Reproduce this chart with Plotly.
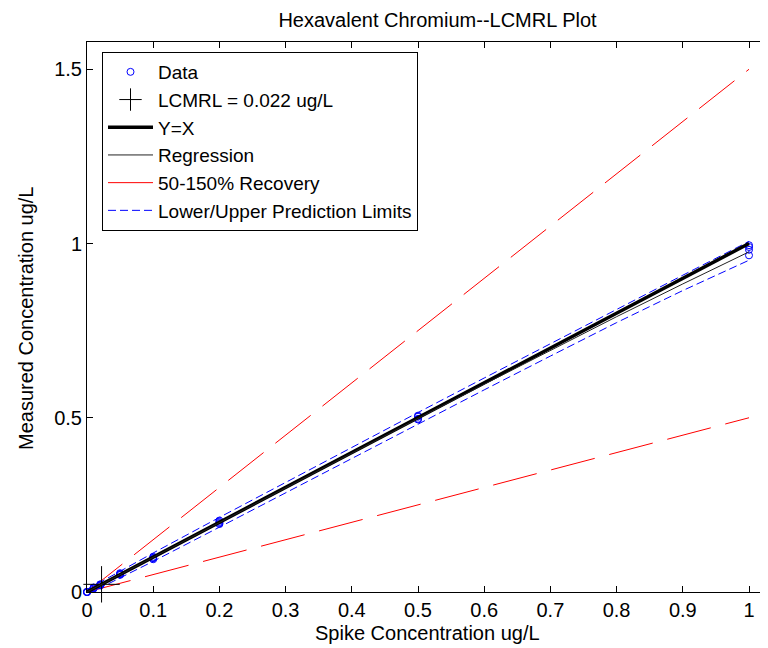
import plotly.graph_objects as go

# ---- data ----
spike_levels = [0.0, 0.01, 0.02, 0.05, 0.1, 0.2, 0.5, 1.0]
rep1 = [0.000, 0.011, 0.021, 0.052, 0.098, 0.195, 0.497, 0.995]
rep2 = [0.000, 0.012, 0.019, 0.049, 0.101, 0.201, 0.503, 0.982]
rep3 = [0.000, 0.010, 0.022, 0.051, 0.094, 0.205, 0.506, 0.966]
rep4 = [0.000, 0.013, 0.020, 0.054, 0.097, 0.198, 0.495, 0.990]

lcmrl_x = [0.022]
lcmrl_y = [0.022]

yx_x = [0.0, 1.0]
yx_y = [0.0, 1.0]

reg_x = [0.0, 0.1, 0.2, 0.3, 0.4, 0.5, 0.6, 0.7, 0.8, 0.9, 1.0]
reg_y = [0.0, 0.100, 0.200, 0.299, 0.399, 0.498, 0.596, 0.694, 0.790, 0.884, 0.976]

rec_x = [0.0, 1.0]
rec_low = [0.0, 0.5]
rec_high = [0.0, 1.5]

pl_x = [0.0, 0.05, 0.1, 0.2, 0.3, 0.4, 0.5, 0.6, 0.7, 0.8, 0.9, 1.0]
pl_upper = [0.007, 0.060, 0.112, 0.214, 0.315, 0.415, 0.515, 0.614, 0.713, 0.811, 0.909, 1.006]
pl_lower = [-0.007, 0.040, 0.088, 0.186, 0.285, 0.384, 0.483, 0.580, 0.677, 0.773, 0.865, 0.952]

x_ticks = [0, 0.1, 0.2, 0.3, 0.4, 0.5, 0.6, 0.7, 0.8, 0.9, 1]
x_tick_text = ["0", "0.1", "0.2", "0.3", "0.4", "0.5", "0.6", "0.7", "0.8", "0.9", "1"]
y_ticks = [0, 0.5, 1, 1.5]
y_tick_text = ["0", "0.5", "1", "1.5"]

# ---- build figure ----
data_x = []
data_y = []
for reps in (rep1, rep2, rep3, rep4):
    data_x.extend(spike_levels)
    data_y.extend(reps)

FONT = "Arial, Liberation Sans, sans-serif"
FS = 20
LFS = 19

fig = go.Figure()

fig.add_trace(go.Scatter(x=rec_x, y=rec_low, mode="lines", showlegend=False,
                         line=dict(color="#FF0000", width=1, dash="45px,15px")))
fig.add_trace(go.Scatter(x=rec_x, y=rec_high, mode="lines", showlegend=False,
                         line=dict(color="#FF0000", width=1, dash="45px,15px")))
fig.add_trace(go.Scatter(x=pl_x, y=pl_lower, mode="lines", showlegend=False,
                         line=dict(color="#0000FF", width=1, dash="8px,4px")))
fig.add_trace(go.Scatter(x=pl_x, y=pl_upper, mode="lines", showlegend=False,
                         line=dict(color="#0000FF", width=1, dash="8px,4px")))

fig.add_trace(go.Scatter(x=data_x, y=data_y, mode="markers", name="Data",
                         cliponaxis=False,
                         marker=dict(symbol="circle-open", size=7, color="#0000FF",
                                     line=dict(width=1, color="#0000FF"))))
fig.add_trace(go.Scatter(x=lcmrl_x, y=lcmrl_y, mode="markers", name="LCMRL = 0.022 ug/L",
                         cliponaxis=False,
                         marker=dict(symbol="cross-thin-open", size=26, color="black",
                                     line=dict(width=1, color="black"))))
fig.add_trace(go.Scatter(x=yx_x, y=yx_y, mode="lines", name="Y=X",
                         line=dict(color="black", width=3.5)))
fig.add_trace(go.Scatter(x=reg_x, y=reg_y, mode="lines", name="Regression",
                         line=dict(color="#222222", width=1)))
fig.add_trace(go.Scatter(x=[None], y=[None], mode="lines", name="50-150% Recovery",
                         line=dict(color="#FF0000", width=1)))
fig.add_trace(go.Scatter(x=[None], y=[None], mode="lines", name="Lower/Upper Prediction Limits",
                         line=dict(color="#0000FF", width=1, dash="8px,4px")))

# page has an 8px body margin: figure is 760x640 placed at (8, 8)
OFF = 8
W, H = 760, 640
L, R, T, B = 79, 0, 34, 56
PW, PH = W - L - R, H - T - B
xmax = PW / 662.0
ymax = PH / 348.5

axis_common = dict(showgrid=False, zeroline=False, showline=True, linecolor="black",
                   linewidth=1, mirror="ticks", ticks="inside", ticklen=6,
                   tickcolor="black", automargin=False,
                   tickfont=dict(family=FONT, size=FS, color="black"))

fig.update_layout(
    width=W, height=H,
    margin=dict(l=L, r=R, t=T, b=B, autoexpand=False),
    paper_bgcolor="white", plot_bgcolor="white",
    font=dict(family=FONT, size=FS, color="black"),
    title=dict(text="Hexavalent Chromium--LCMRL Plot", x=(437.5 - OFF) / W, xref="container",
               xanchor="center", y=1 - 12 / H, yref="container", yanchor="middle",
               font=dict(family=FONT, size=FS, color="black"), automargin=False),
    xaxis=dict(range=[0, xmax], tickvals=x_ticks, ticktext=x_tick_text,
               ticklabelstandoff=0, **axis_common),
    yaxis=dict(range=[0, ymax], tickvals=y_ticks, ticktext=y_tick_text,
               **axis_common),
    annotations=[
        dict(text="Spike Concentration ug/L", xref="paper", yref="paper",
             x=0.5, y=-(633 - OFF - (T + PH)) / PH, xanchor="center", yanchor="middle",
             showarrow=False, font=dict(family=FONT, size=FS, color="black")),
        dict(text="Measured Concentration ug/L", xref="paper", yref="paper",
             x=-(L - (26 - OFF)) / PW, y=1 - (318 - OFF - T) / PH,
             xanchor="center", yanchor="middle", textangle=-90,
             showarrow=False, font=dict(family=FONT, size=FS, color="black")),
    ],
    legend=dict(x=(102 - OFF - L) / PW, y=1 - (52 - OFF - T) / PH,
                xanchor="left", yanchor="top", bgcolor="white",
                bordercolor="black", borderwidth=1, itemwidth=45,
                entrywidth=285, entrywidthmode="pixels",
                font=dict(family=FONT, size=LFS, color="black"),
                tracegroupgap=0),
)

fig.write_html("out.html")
